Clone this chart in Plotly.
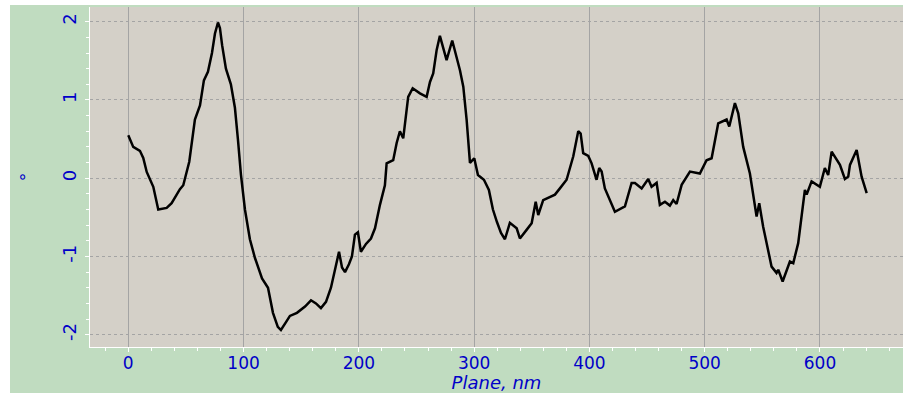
import plotly.graph_objects as go

# Profile along the scan plane: position (nm) and angle (degrees)
plane_nm = [
    0, 4.3, 10.1, 13.0, 16.0, 21.7, 26.0, 33.3, 37.6, 44.8, 47.7, 52.9, 57.8,
    62.2, 65.6, 69.1, 72.6, 75.2, 77.8, 79.5, 81.4, 84.7, 89.0, 92.5, 95.1,
    97.7, 101.2, 105.5, 109.9, 116.0, 121.2, 125.5, 129.7, 132.4, 136.8,
    140.2, 146.3, 153.3, 158.5, 162.8, 167.1, 171.5, 175.8, 180.2, 182.8,
    185.4, 188.0, 191.4, 194.0, 196.6, 199.2, 201.8, 206.2, 210.5, 214.0,
    218.3, 222.6, 224.1, 229.8, 232.8, 235.6, 238.5, 242.8, 246.7, 253.0,
    258.8, 261.7, 264.5, 267.5, 270.3, 276.1, 281.0, 287.7, 290.6, 293.5,
    296.4, 300.1, 303.3, 308.5, 312.8, 316.3, 319.8, 323.3, 326.7, 331.0,
    336.9, 339.7, 345.5, 349.9, 353.4, 355.6, 359.9, 365.7, 370.1, 374.4,
    380.2, 386.0, 390.3, 392.4, 394.6, 399.0, 401.9, 406.2, 408.5, 410.6,
    413.4, 422.1, 430.8, 436.6, 439.5, 445.3, 451.0, 453.9, 458.3, 461.1,
    465.5, 469.8, 472.7, 475.6, 480.0, 487.2, 495.8, 501.6, 506.0, 511.7,
    519.0, 521.3, 526.2, 529.1, 533.4, 539.2, 545.0, 547.3, 550.7, 558.0,
    562.3, 563.8, 567.6, 573.9, 576.8, 581.1, 586.9, 588.4, 592.7, 599.9,
    604.2, 607.1, 610.1, 617.3, 621.6, 624.5, 626.0, 631.8, 636.1, 640.5,
]
angle_deg = [
    0.55, 0.40, 0.35, 0.26, 0.08, -0.11, -0.40, -0.38, -0.32, -0.14, -0.09, 0.21, 0.75,
    0.93, 1.25, 1.36, 1.60, 1.85, 1.99, 1.92, 1.70, 1.40, 1.20, 0.90, 0.50,
    0.05, -0.40, -0.78, -1.02, -1.28, -1.40, -1.72, -1.90, -1.94, -1.84,
    -1.76, -1.72, -1.64, -1.56, -1.60, -1.66, -1.58, -1.40, -1.12, -0.94,
    -1.14, -1.20, -1.10, -1.00, -0.72, -0.69, -0.94, -0.84, -0.77, -0.64,
    -0.34, -0.09, 0.19, 0.23, 0.45, 0.60, 0.51, 1.04, 1.15, 1.085,
    1.04, 1.23, 1.34, 1.64, 1.82, 1.51, 1.76, 1.38, 1.17, 0.745,
    0.195, 0.255, 0.04, -0.02, -0.15, -0.40, -0.56, -0.70, -0.78, -0.57,
    -0.64, -0.77, -0.66, -0.575, -0.30, -0.47, -0.28, -0.235, -0.21, -0.13,
    -0.02, 0.28, 0.60, 0.57, 0.32, 0.285, 0.19, -0.02, 0.13, 0.085,
    -0.13, -0.43, -0.36, -0.06, -0.06, -0.13, -0.01, -0.11, -0.06, -0.34,
    -0.30, -0.35, -0.28, -0.33, -0.085, 0.085, 0.06, 0.23, 0.255, 0.70,
    0.75, 0.66, 0.96, 0.83, 0.40, 0.06, -0.49, -0.32, -0.62, -1.13,
    -1.21, -1.17, -1.32, -1.065, -1.085, -0.83, -0.15, -0.21, -0.04, -0.11,
    0.13, 0.04, 0.34, 0.17, -0.01, 0.02, 0.17, 0.36, 0.02, -0.19,
]

x_ticks = [0, 100, 200, 300, 400, 500, 600]
y_ticks = [-2, -1, 0, 1, 2]

BLUE = "#0000c8"
GREEN = "#c0dcc0"
PANEL = "#d4d0c8"
GRID = "#a4a4a4"
FONT = "DejaVu Sans"

fig = go.Figure(
    go.Scatter(
        x=plane_nm,
        y=angle_deg,
        mode="lines",
        line=dict(color="black", width=2.5),
        hoverinfo="skip",
    )
)

fig.update_layout(
    width=903,
    height=393,
    margin=dict(l=90, r=0, t=7, b=46),
    paper_bgcolor=GREEN,
    plot_bgcolor=PANEL,
    showlegend=False,
    font=dict(family=FONT, color=BLUE, size=17),
    shapes=[
        # white border strips along the left and top of the window
        dict(type="rect", xref="paper", yref="paper", x0=-0.2, x1=-80 / 813,
             y0=-0.2, y1=1.1, fillcolor="white", line=dict(width=0), layer="above"),
        dict(type="rect", xref="paper", yref="paper", x0=-0.2, x1=1.1,
             y0=1 + 2 / 340, y1=1.1, fillcolor="white", line=dict(width=0), layer="above"),
    ],
)

fig.update_xaxes(
    range=[-33.2, 672],
    tickvals=x_ticks,
    ticktext=[str(v) for v in x_ticks],
    tickfont=dict(family=FONT, size=17, color=BLUE),
    ticklabelstandoff=-3,
    showgrid=True,
    gridcolor=GRID,
    gridwidth=1,
    zeroline=False,
    showline=True,
    linecolor="white",
    linewidth=1,
    ticks="outside",
    ticklen=4,
    tickcolor="white",
    minor=dict(dtick=20, ticks="outside", ticklen=3, tickcolor="white", showgrid=False),
    title=dict(text="<i>Plane, nm</i>", font=dict(family=FONT, size=18, color=BLUE), standoff=0),
)

fig.update_yaxes(
    range=[-2.157, 2.188],
    tickvals=y_ticks,
    ticktext=[str(v) for v in y_ticks],
    tickangle=-90,
    tickfont=dict(family=FONT, size=18, color=BLUE),
    ticklabelstandoff=2,
    showgrid=True,
    gridcolor=GRID,
    gridwidth=1,
    griddash="dot",
    zeroline=False,
    showline=True,
    linecolor="white",
    linewidth=1,
    ticks="outside",
    ticklen=4,
    tickcolor="white",
    minor=dict(dtick=0.2, ticks="outside", ticklen=3, tickcolor="white", showgrid=False),
    title=dict(text="°", font=dict(family=FONT, size=18, color=BLUE), standoff=20),
)

fig.write_html("out.html")
